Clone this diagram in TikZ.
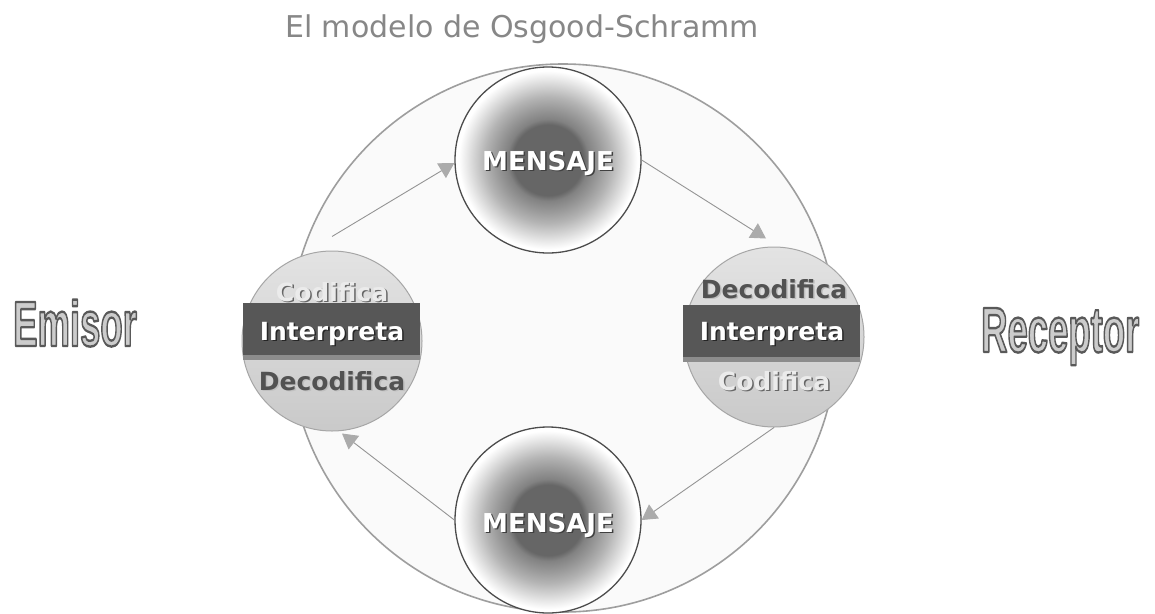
\documentclass[tikz,border=0pt]{standalone}
\usepackage{fontspec}
\usepackage{graphicx}
\setmainfont{DejaVu Sans}
\newfontfamily\arialfont{Liberation Sans}
\usetikzlibrary{arrows.meta}
\definecolor{m1}{HTML}{666666}
\definecolor{m2}{HTML}{828282}
\definecolor{m3}{HTML}{9A9A9A}
\definecolor{m4}{HTML}{B4B4B4}
\definecolor{m5}{HTML}{CFCFCF}
\definecolor{m6}{HTML}{EAEAEA}
\definecolor{embF}{HTML}{CCCCCC}
\pgfdeclareradialshading{msgshade}{\pgfpoint{0bp}{0bp}}{color(0bp)=(m1); color(9.5bp)=(m1); color(11bp)=(m2); color(14bp)=(m3); color(17bp)=(m4); color(19.5bp)=(m5); color(22bp)=(m6); color(24bp)=(white); color(50bp)=(white)}
\newcommand\shtext[3]{\makebox[0pt][l]{\hspace*{#1}\raisebox{-#1}{\color{#2}#3}}#3}
\newcommand\embtext[1]{{\color{embF}\special{pdf:literal direct 2 Tr 2.4 w 0.35 G 1 j}#1\special{pdf:literal direct 0 Tr}}}
\begin{document}
\begin{tikzpicture}[x=1pt,y=-1pt,
  bigc/.style={circle, draw=black!38, line width=1.6pt, fill=black!2, minimum size=548pt, inner sep=0pt},
  msgc/.style={circle, draw=black!70, line width=1.3pt, shading=msgshade, minimum size=186pt, inner sep=0pt},
  rolec/.style={circle, draw=black!35, line width=1pt, top color=black!11, bottom color=black!21, minimum size=180pt, inner sep=0pt},
  band/.style={fill=black!66, minimum width=177pt, minimum height=52pt, inner sep=0pt},
  bandsh/.style={fill=black!45, minimum width=177pt, minimum height=52pt, inner sep=0pt},
  msgtxt/.style={font=\fontsize{26}{30}\selectfont\bfseries, text=white, anchor=base, inner sep=0pt},
  roletxt/.style={font=\fontsize{25}{30}\selectfont\bfseries, anchor=base, inner sep=0pt},
  conn/.style={draw=black!42, line width=0.9pt, -{Triangle[length=15pt,width=17pt,color=black!33]}},
  bigword/.style={anchor=base west, inner sep=0pt}
]
\useasboundingbox (0,0) rectangle (1155,613);
\fill[white] (0,0) rectangle (1155,613);
\node[anchor=base, text=black!47, font=\fontsize{30}{34}\selectfont] (title) at (522,37) {El modelo de Osgood-Schramm};
\node[bigc] (ring) at (563,338) {};
\node[rolec] (emi) at (332,341) {};
\node[rolec] (rec) at (774,337) {};
\node[bandsh] (ebsh) at (331.5,334) {};
\node[band] (eb) at (331.5,329) {};
\node[bandsh] (rbsh) at (771.5,336) {};
\node[band] (rb) at (771.5,331) {};
\node[msgc] (top) at (548,160) {};
\node[msgc] (bot) at (548,520) {};
\node[msgtxt] (topt) at (548,170) {\shtext{1.5pt}{black!75}{MENSAJE}};
\node[msgtxt] (bott) at (548,532) {\shtext{1.5pt}{black!75}{MENSAJE}};
\node[roletxt, text=black!8] (ecod) at (332,301) {\shtext{1.5pt}{black!60}{Codifica}};
\node[roletxt, text=white] (eint) at (332,340) {\shtext{1.5pt}{black!85}{Interpreta}};
\node[roletxt, text=black!68] (edec) at (332,390) {\shtext{1.5pt}{black!25}{Decodifica}};
\node[roletxt, text=black!68] (rdec) at (774,298) {\shtext{1.5pt}{black!25}{Decodifica}};
\node[roletxt, text=white] (rint) at (772,340) {\shtext{1.5pt}{black!85}{Interpreta}};
\node[roletxt, text=black!8] (rcod) at (774,390) {\shtext{1.5pt}{black!60}{Codifica}};
\draw[conn] ([yshift=14pt]emi.north) -- ([yshift=-3pt]top.west);
\draw[conn] (top.east) -- ([xshift=-8pt,yshift=8pt]rec.north);
\draw[conn] (rec.south) -- (bot.east);
\draw[conn] (bot.west) -- ([xshift=10pt,yshift=-2pt]emi.south);
\node[bigword] (emisor) at (13,346) {\scalebox{0.57}[1]{\fontsize{64}{70}\arialfont\bfseries\embtext{Emisor}}};
\node[bigword] (receptor) at (981,352) {\scalebox{0.57}[1]{\fontsize{64}{70}\arialfont\bfseries\embtext{Receptor}}};
\end{tikzpicture}
\end{document}
